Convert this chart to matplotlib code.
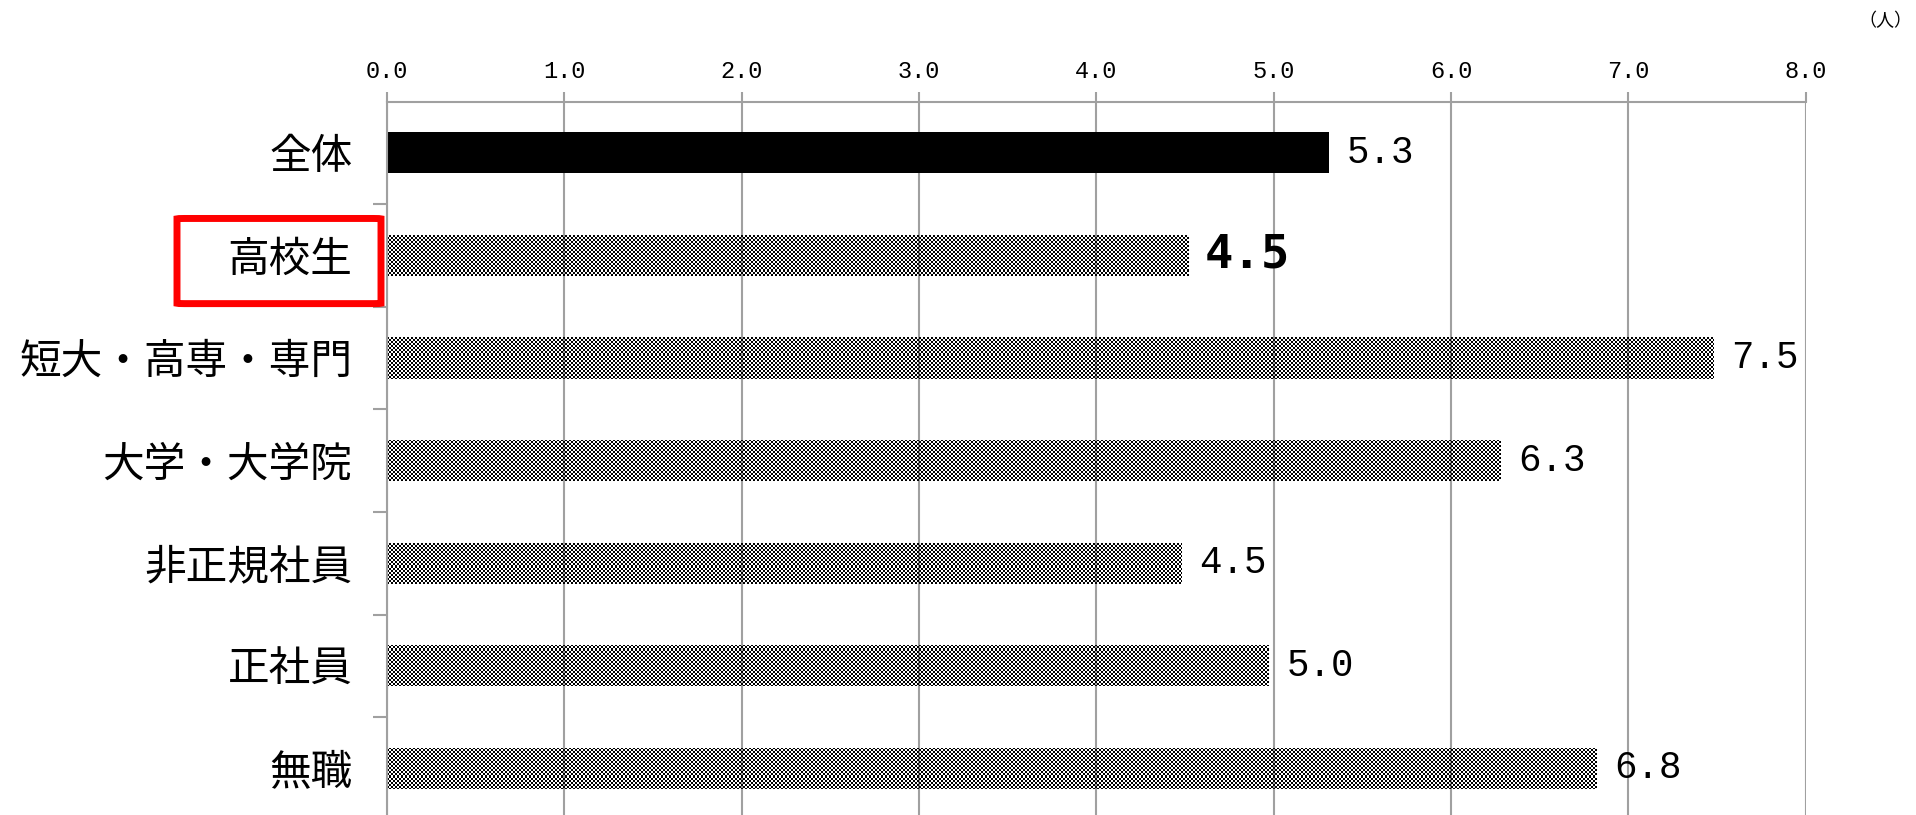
import numpy as np
import matplotlib
matplotlib.use("Agg")
import matplotlib.pyplot as plt
from matplotlib.patches import FancyBboxPatch
import matplotlib.transforms as mtransforms

plt.rcParams['font.family'] = ['Noto Sans CJK JP', 'DejaVu Sans']

# data (bar lengths, labels as printed)
categories = ['全体', '高校生', '短大・高専・専門', '大学・大学院', '非正規社員', '正社員', '無職']
values = [5.31, 4.52, 7.48, 6.28, 4.48, 4.97, 6.82]
value_labels = ['5.3', '4.5', '7.5', '6.3', '4.5', '5.0', '6.8']
x_ticks = [0, 1, 2, 3, 4, 5, 6, 7, 8]
x_ticklabels = ['0.0', '1.0', '2.0', '3.0', '4.0', '5.0', '6.0', '7.0', '8.0']
unit_label = '（人）'
highlight = 1   # 高校生

W, H = 1916, 815
fig = plt.figure(figsize=(W / 100, H / 100), dpi=100)
ax = fig.add_axes([387 / W, -4.7 / H, 1418.6 / W, 718.2 / H])

grey = '#a0a0a0'
y = np.arange(len(categories))
colors = ['black' if i == 0 else 'none' for i in y]
bars = ax.barh(y, values, height=0.4, color=colors, edgecolor='none', zorder=2)

ax.set_xlim(0, 8)
ax.set_ylim(len(categories) - 0.5, -0.5)

# checker fill for the grey bars (transparent light cells)
fig.canvas.draw()
bb = ax.get_window_extent()
pw, ph = int(round(bb.width)), int(round(bb.height))
ii, jj = np.indices((ph, pw))
check = ((ii // 2 + jj // 2) % 2 == 0)
rgba = np.zeros((ph, pw, 4))
rgba[check, 3] = 1.0
for i, b in enumerate(bars):
    if i == 0:
        continue
    im = ax.imshow(rgba, extent=(0, 8, len(categories) - 0.5, -0.5), aspect='auto',
                   interpolation='nearest', zorder=2)
    im.set_clip_path(b)
ax.set_xlim(0, 8)
ax.set_ylim(len(categories) - 0.5, -0.5)

# axes styling
ax.xaxis.tick_top()
ax.set_xticks(x_ticks)
ax.set_xticklabels(x_ticklabels, family='Liberation Mono', fontsize=17)
ax.tick_params(axis='x', which='major', length=7, width=1.5, color=grey, pad=6)
ax.xaxis.grid(True, color=grey, linewidth=1.5, zorder=0)
ax.set_axisbelow(True)

ax.set_yticks(y)
ax.set_yticklabels(categories, fontsize=30)
ax.tick_params(axis='y', which='major', length=0, pad=25)
ax.set_yticks(np.arange(len(categories)) + 0.5, minor=True)
ax.tick_params(axis='y', which='minor', length=10, width=1.5, color=grey)

for side in ['right', 'bottom']:
    ax.spines[side].set_visible(False)
for side in ['top', 'left']:
    ax.spines[side].set_color(grey)
    ax.spines[side].set_linewidth(1.5)

# value labels
for i, (v, lab) in enumerate(zip(values, value_labels)):
    if i == highlight:
        ax.annotate(lab, (v, i), xytext=(12, 0), textcoords='offset points',
                    va='center', ha='left', family='DejaVu Sans Mono',
                    fontweight='bold', fontsize=34)
    else:
        ax.annotate(lab, (v, i), xytext=(13, 0), textcoords='offset points',
                    va='center', ha='left', family='Liberation Mono', fontsize=27)

# red frame around the highlighted label
trans = mtransforms.blended_transform_factory(fig.transFigure, ax.transData)
box = FancyBboxPatch((177 / W, highlight - 0.36), (381 - 177) / W, 0.83,
                     boxstyle='round,pad=0,rounding_size=0.004', transform=trans,
                     facecolor='none', edgecolor='#ff0000', linewidth=5,
                     clip_on=False)
fig.patches.append(box)

fig.text(0.998, 1 - 21 / H, unit_label, ha='right', va='center', fontsize=13)

fig.savefig('out.png', dpi=100)
